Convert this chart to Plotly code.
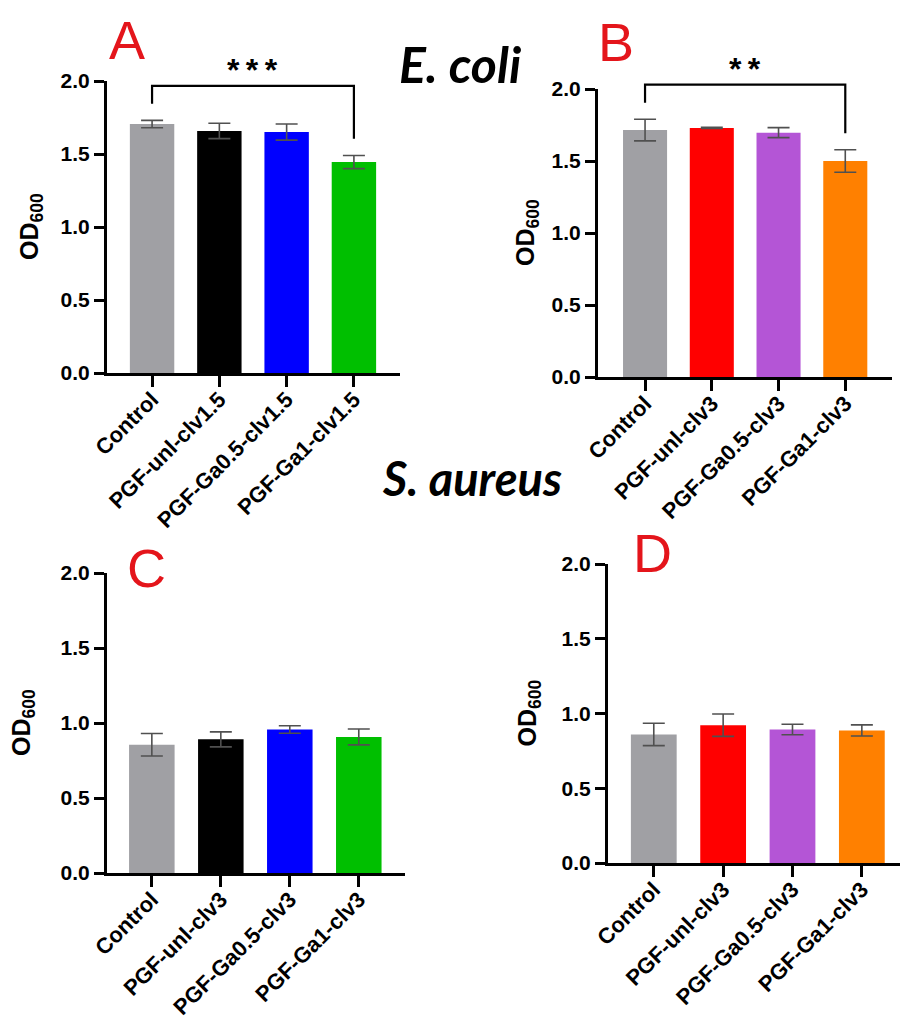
import plotly.graph_objects as go

W, H = 900, 1023

# ---------------- data ----------------
cats_A = ["Control", "PGF-unl-clv1.5", "PGF-Ga0.5-clv1.5", "PGF-Ga1-clv1.5"]
cats_B = ["Control", "PGF-unl-clv3", "PGF-Ga0.5-clv3", "PGF-Ga1-clv3"]
cats_C = ["Control", "PGF-unl-clv3", "PGF-Ga0.5-clv3", "PGF-Ga1-clv3"]
cats_D = ["Control", "PGF-unl-clv3", "PGF-Ga0.5-clv3", "PGF-Ga1-clv3"]

vals_A = [1.705, 1.658, 1.650, 1.445]
err_A = [0.025, 0.053, 0.055, 0.045]
vals_B = [1.715, 1.730, 1.697, 1.500]
err_B = [0.075, 0.004, 0.035, 0.078]
vals_C = [0.855, 0.891, 0.957, 0.907]
err_C = [0.075, 0.050, 0.025, 0.053]
vals_D = [0.860, 0.922, 0.893, 0.887]
err_D = [0.075, 0.075, 0.035, 0.037]

colors_AC = ["#A0A0A4", "#000000", "#0000FF", "#00BF00"]
colors_BD = ["#A0A0A4", "#FF0000", "#B455D6", "#FF8000"]

yticks = [0.0, 0.5, 1.0, 1.5, 2.0]

# significance: (i, j, bracket level, label)
sig_A = (0, 3, 1.966, "*\u2009*\u2009*")
sig_B = (0, 3, 2.03, "*\u2009*")

# ---------------- layout (pixel boxes) ----------------
panels = [
    dict(cats=cats_A, vals=vals_A, err=err_A, colors=colors_AC,
         box=(107, 400, 373, 81), xr=(-0.67, 3.685), letter="A", lpos=(127, 40),
         ytitle_x=31, sig=sig_A),
    dict(cats=cats_B, vals=vals_B, err=err_B, colors=colors_BD,
         box=(598, 892, 377, 89), xr=(-0.705, 3.70), letter="B", lpos=(616, 42),
         ytitle_x=527, sig=sig_B),
    dict(cats=cats_C, vals=vals_C, err=err_C, colors=colors_AC,
         box=(107, 405, 873, 573), xr=(-0.65, 3.67), letter="C", lpos=(146, 568),
         ytitle_x=23, sig=None),
    dict(cats=cats_D, vals=vals_D, err=err_D, colors=colors_BD,
         box=(608, 900, 863, 564), xr=(-0.66, 3.55), letter="D", lpos=(652, 553),
         ytitle_x=528, sig=None),
]

FONT = "Liberation Sans, Arial, sans-serif"


def px_x(x):
    return x / W


def px_y(y):
    return 1 - y / H


fig = go.Figure()
shapes = []
annotations = []
layout_axes = {}

for k, p in enumerate(panels, start=1):
    xs = "" if k == 1 else str(k)
    xa, ya = "x" + xs, "y" + xs
    left, right, y0, y2 = p["box"]
    fig.add_trace(go.Bar(
        x=list(range(len(p["cats"]))), y=p["vals"],
        marker=dict(color=p["colors"], line=dict(width=0)),
        width=0.66,
        error_y=dict(type="data", array=p["err"], visible=True,
                     color="#505050", thickness=1.6, width=11),
        xaxis=xa, yaxis=ya, showlegend=False,
    ))
    layout_axes["xaxis" + xs] = dict(
        domain=[px_x(left), px_x(right)], range=list(p["xr"]), anchor=ya,
        tickvals=list(range(len(p["cats"]))), ticktext=p["cats"], tickangle=-45,
        showline=True, linewidth=3, linecolor="black", ticks="outside",
        ticklen=11, tickwidth=3, tickcolor="black", showgrid=False, zeroline=False,
        tickfont=dict(family=FONT, size=22, color="black", weight="bold"),
        ticklabelstandoff=-9,
        fixedrange=True, automargin=False,
    )
    layout_axes["yaxis" + xs] = dict(
        domain=[px_y(y0), px_y(y2)], range=[0, 2.0], anchor=xa,
        tickvals=yticks, tickformat=".1f",
        showline=True, linewidth=3, linecolor="black", ticks="outside",
        ticklen=10, tickwidth=3, tickcolor="black", showgrid=False, zeroline=False,
        tickfont=dict(family=FONT, size=21, color="black", weight="bold"),
        fixedrange=True, automargin=False,
    )
    # y title
    annotations.append(dict(
        x=px_x(p["ytitle_x"]), y=px_y((y0 + y2) / 2), xref="paper", yref="paper",
        text="<b>OD<sub>600</sub></b>", textangle=-90, showarrow=False,
        font=dict(family=FONT, size=25, color="black"),
        xanchor="center", yanchor="middle",
    ))
    # panel letter
    annotations.append(dict(
        x=px_x(p["lpos"][0]), y=px_y(p["lpos"][1]), xref="paper", yref="paper",
        text=p["letter"], showarrow=False,
        font=dict(family=FONT, size=54, color="#E4151B"),
        xanchor="center", yanchor="middle",
    ))
    # significance bracket
    if p["sig"] is not None:
        i, j, lvl, lab = p["sig"]
        r0, r1 = p["xr"]
        fx = lambda v: (v - r0) / (r1 - r0)
        fy = lambda v: v / 2.0
        gap = 0.115
        yi = p["vals"][i] + p["err"][i] + gap
        yj = p["vals"][j] + p["err"][j] + gap
        path = "M {:.4f},{:.4f} L {:.4f},{:.4f} L {:.4f},{:.4f} L {:.4f},{:.4f}".format(
            fx(i), fy(yi), fx(i), fy(lvl), fx(j), fy(lvl), fx(j), fy(yj))
        shapes.append(dict(type="path", path=path, xref=xa + " domain", yref=ya + " domain",
                           line=dict(color="black", width=2.2)))
        annotations.append(dict(
            x=fx((i + j) / 2), y=fy(lvl - 0.03), xref=xa + " domain", yref=ya + " domain",
            text="<b>" + lab + "</b>",
            showarrow=False, font=dict(family=FONT, size=32, color="black"),
            xanchor="center", yanchor="bottom",
        ))

# species titles
annotations.append(dict(
    x=px_x(460), y=px_y(64), xref="paper", yref="paper",
    text="<b><i>E. coli</i></b>", showarrow=False,
    font=dict(family="Lato, Open Sans, sans-serif", size=50, color="black"),
    xanchor="center", yanchor="middle",
))
annotations.append(dict(
    x=px_x(472), y=px_y(478), xref="paper", yref="paper",
    text="<b><i>S. aureus</i></b>", showarrow=False,
    font=dict(family="Lato, Open Sans, sans-serif", size=47, color="black"),
    xanchor="center", yanchor="middle",
))

fig.update_layout(
    template="none",
    width=W, height=H, margin=dict(l=0, r=0, t=0, b=0, pad=0),
    paper_bgcolor="white", plot_bgcolor="white",
    shapes=shapes, annotations=annotations, bargap=0.34,
    **layout_axes,
)

fig.write_html("out.html", config={"displayModeBar": False})
